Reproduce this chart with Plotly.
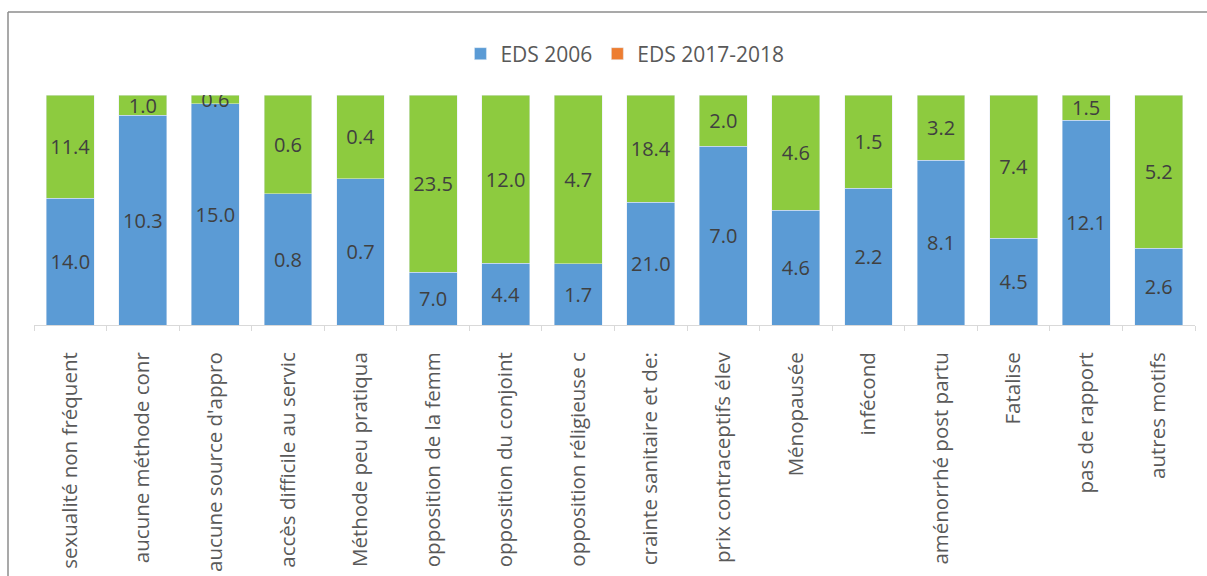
import plotly.graph_objects as go

categories = [
    "sexualité non fréquent", "aucune méthode conr", "aucune source d'appro",
    "accès difficile au servic", "Méthode peu pratiqua", "opposition de la femm",
    "opposition du conjoint", "opposition réligieuse c", "crainte sanitaire et de:",
    "prix contraceptifs élev", "Ménopausée", "infécond", "aménorrhé post partu",
    "Fatalise", "pas de rapport", "autres motifs",
]
eds2006 = [14.0, 10.3, 15.0, 0.8, 0.7, 7.0, 4.4, 1.7, 21.0, 7.0, 4.6, 2.2, 8.1, 4.5, 12.1, 2.6]
eds2017 = [11.4, 1.0, 0.6, 0.6, 0.4, 23.5, 12.0, 4.7, 18.4, 2.0, 4.6, 1.5, 3.2, 7.4, 1.5, 5.2]

FONT = "Open Sans"
W, H = 1207, 576
ml, mr, mt, mb = 34, 12, 95, 251
pw, ph = W - ml - mr, H - mt - mb

fig = go.Figure()
fig.add_trace(go.Bar(
    x=categories, y=eds2006, name="EDS 2006", marker_color="#5B9BD5",
    text=[f"{v:.1f}" for v in eds2006], textposition="inside", insidetextanchor="middle",
    textangle=0, constraintext="none",
    textfont=dict(family=FONT, size=20, color="#404040"),
))
fig.add_trace(go.Bar(
    x=categories, y=eds2017, name="EDS 2017-2018", marker_color="#8DCB3F",
    text=[f"{v:.1f}" for v in eds2017], textposition="inside", insidetextanchor="middle",
    textangle=0, constraintext="none", showlegend=False, legendgroup="b",
    textfont=dict(family=FONT, size=20, color="#404040"),
))
# legend-only entry (as in the reference legend)
fig.add_trace(go.Bar(
    x=[None], y=[None], name="EDS 2017-2018", marker_color="#ED7D31", legendgroup="b",
))

def px_x(p):
    return (p - ml) / pw

def px_y(p):
    return 1 - (p - mt) / ph

fig.update_layout(
    width=W, height=H,
    margin=dict(l=ml, r=mr, t=mt, b=mb, autoexpand=False),
    barmode="stack", barnorm="percent", bargap=0.34,
    plot_bgcolor="white", paper_bgcolor="white",
    font=dict(family=FONT, color="#595959"),
    legend=dict(orientation="h", x=0.509, xanchor="center", y=px_y(54), yanchor="middle",
                font=dict(size=21, color="#595959"), traceorder="normal",
                itemwidth=30),
    xaxis=dict(
        tickangle=-90, tickfont=dict(size=20.5, color="#595959"), automargin=False,
        showline=True, linecolor="#d9d9d9", ticks="outside", tickson="boundaries",
        ticklen=5, tickcolor="#d9d9d9", ticklabelstandoff=18,
    ),
    yaxis=dict(visible=False, range=[0, 100], automargin=False),
    shapes=[
        dict(type="line", xref="paper", yref="paper", x0=px_x(8), x1=px_x(W + 5),
             y0=px_y(12), y1=px_y(12), line=dict(color="#8c8c8c", width=1.5)),
        dict(type="line", xref="paper", yref="paper", x0=px_x(8), x1=px_x(8),
             y0=px_y(12), y1=px_y(H + 5), line=dict(color="#8c8c8c", width=1.5)),
    ],
)

fig.write_html("out.html")
